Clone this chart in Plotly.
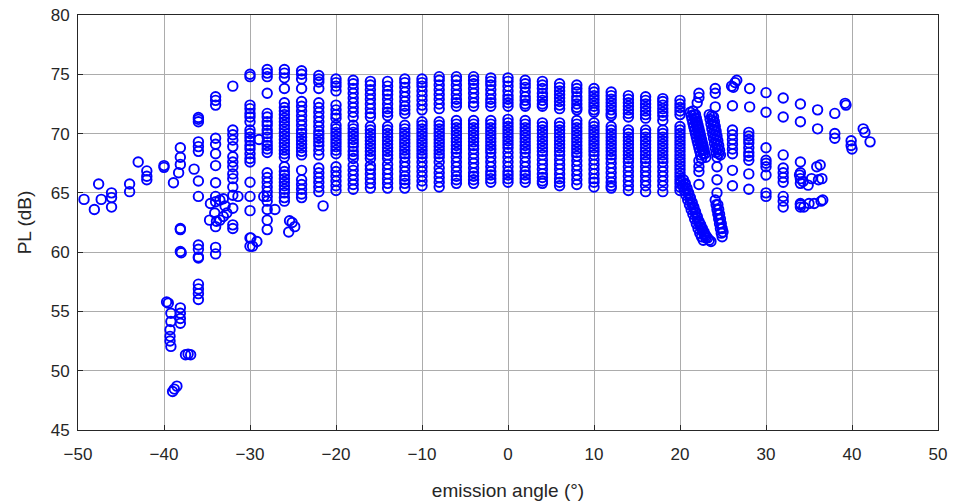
import plotly.graph_objects as go

# Path loss (dB) measured per emission angle (deg); regular sweep columns
col_angles = [-32, -30, -28, -26, -24, -22, -20, -18, -16, -14, -12, -10, -8, -6,
              -4, -2, 0, 2, 4, 6, 8, 10, 12, 14, 16, 18, 20]
col_pl = [
    [74.0, 70.3, 69.9, 69.45, 68.9, 68.05, 67.6, 67.2, 66.6, 66.2, 65.5, 64.8, 63.7, 62.3, 62.0],
    [75.0, 74.8, 72.4, 72.1, 71.7, 71.4, 71.0, 70.3, 70.0, 69.7, 69.4, 69.0, 68.7, 68.3, 67.9,
     67.6, 65.9, 64.7, 63.5, 61.2, 60.5],
    [75.4, 75.1, 74.8, 73.4, 71.7, 71.4, 71.0, 70.7, 70.3, 70.0, 69.7, 69.3, 69.0, 68.7, 68.4,
     66.7, 66.3, 65.9, 65.5, 65.1, 64.7, 64.3, 63.6, 62.7, 61.9],
    [75.4, 75.1, 74.7, 73.8, 72.6, 72.2, 71.9, 71.6, 71.3, 71.0, 70.7, 70.4, 70.1, 69.8, 69.5,
     69.2, 68.9, 68.6, 68.3, 68.0, 67.2, 66.8, 66.5, 66.2, 65.9, 65.6, 65.3, 65.0, 64.6, 64.3],
    [75.3, 75.0, 74.6, 73.8, 72.7, 72.3, 71.9, 71.5, 71.1, 70.7, 70.3, 70.0, 69.7, 69.4, 69.1,
     68.8, 68.5, 68.2, 66.9, 66.1, 65.7, 65.3, 64.9, 64.6],
    [74.9, 74.6, 74.35, 73.8, 72.6, 72.2, 71.8, 71.4, 71.0, 70.6, 70.2, 69.9, 69.6, 69.3, 69.0,
     68.6, 68.2, 67.1, 66.7, 66.3, 65.9, 65.5, 65.1],
    [74.6, 74.3, 74.0, 73.6, 72.4, 72.0, 71.6, 71.3, 70.7, 70.4, 70.1, 69.8, 69.5, 69.2, 68.9,
     68.6, 68.3, 67.2, 66.8, 66.4, 66.0, 65.6, 65.2],
    [74.5, 74.2, 73.8, 73.4, 73.0, 72.6, 72.2, 71.8, 71.4, 70.7, 70.4, 70.1, 69.8, 69.5, 69.2,
     68.9, 68.5, 68.2, 67.9, 67.3, 66.9, 66.5, 66.1, 65.7, 65.3],
    [74.4, 74.1, 73.7, 73.3, 72.9, 72.5, 72.1, 71.7, 71.4, 70.6, 70.3, 70.0, 69.7, 69.4, 69.1,
     68.8, 68.5, 68.2, 67.9, 67.3, 67.0, 66.6, 66.2, 65.8, 65.4],
    [74.4, 74.0, 73.6, 73.3, 72.9, 72.5, 72.1, 71.8, 71.5, 70.6, 70.3, 70.0, 69.7, 69.4, 69.1,
     68.8, 68.5, 68.2, 67.9, 67.4, 67.0, 66.6, 66.2, 65.8, 65.4],
    [74.6, 74.3, 73.9, 73.5, 73.1, 72.7, 72.3, 72.0, 71.7, 70.7, 70.4, 70.1, 69.8, 69.5, 69.2,
     68.9, 68.6, 68.3, 68.0, 67.6, 67.2, 66.8, 66.4, 66.1, 65.8, 65.4],
    [74.6, 74.3, 74.0, 73.6, 73.2, 72.8, 72.4, 72.0, 71.0, 70.7, 70.4, 70.1, 69.8, 69.5, 69.2,
     68.9, 68.6, 68.3, 68.0, 67.6, 67.2, 66.8, 66.4, 66.0, 65.6],
    [74.8, 74.5, 74.1, 73.7, 73.3, 72.9, 72.5, 72.1, 71.0, 70.7, 70.4, 70.1, 69.8, 69.5, 69.2,
     68.9, 68.6, 68.3, 68.0, 67.6, 67.1, 66.7, 66.3, 65.9, 65.5],
    [74.8, 74.5, 74.1, 73.7, 73.3, 72.9, 72.6, 72.3, 71.1, 70.8, 70.5, 70.2, 69.9, 69.6, 69.3,
     69.0, 68.7, 68.4, 68.0, 67.6, 67.2, 66.8, 66.4, 66.1, 65.8],
    [74.8, 74.5, 74.2, 73.8, 73.4, 73.0, 72.6, 72.3, 71.1, 70.8, 70.5, 70.2, 69.9, 69.6, 69.3,
     69.0, 68.7, 68.3, 67.9, 67.5, 67.1, 66.7, 66.4, 66.1, 65.8],
    [74.7, 74.4, 74.1, 73.7, 73.3, 72.9, 72.6, 72.3, 71.1, 70.8, 70.5, 70.2, 69.9, 69.6, 69.3,
     69.0, 68.7, 68.4, 68.0, 67.6, 67.2, 66.8, 66.5, 66.2, 65.9],
    [74.7, 74.4, 74.0, 73.6, 73.2, 72.9, 72.6, 72.3, 71.2, 70.9, 70.6, 70.3, 70.0, 69.7, 69.4,
     69.1, 68.8, 68.4, 68.0, 67.6, 67.2, 66.8, 66.5, 66.2, 65.9],
    [74.5, 74.2, 73.9, 73.5, 73.1, 72.8, 72.5, 72.3, 71.1, 70.8, 70.5, 70.2, 69.9, 69.6, 69.3,
     69.0, 68.7, 68.4, 68.0, 67.6, 67.2, 66.8, 66.5, 66.2, 65.9],
    [74.4, 74.1, 73.8, 73.4, 73.1, 72.8, 72.5, 72.3, 70.9, 70.6, 70.3, 70.0, 69.7, 69.4, 69.1,
     68.8, 68.5, 68.2, 67.8, 67.4, 67.0, 66.6, 66.3, 66.0, 65.8],
    [74.2, 73.9, 73.6, 73.3, 73.0, 72.7, 72.4, 72.1, 70.9, 70.6, 70.3, 70.0, 69.7, 69.4, 69.1,
     68.8, 68.5, 68.2, 67.8, 67.4, 67.0, 66.6, 66.2, 65.9, 65.6],
    [74.1, 73.8, 73.5, 73.1, 72.8, 72.5, 72.2, 72.0, 71.1, 70.8, 70.5, 70.2, 69.9, 69.6, 69.3,
     69.0, 68.7, 68.4, 68.1, 67.7, 67.3, 66.9, 66.5, 66.1, 65.7],
    [73.8, 73.5, 73.2, 72.9, 72.6, 72.3, 72.0, 71.8, 70.9, 70.6, 70.3, 70.0, 69.7, 69.4, 69.1,
     68.8, 68.5, 68.2, 67.8, 67.4, 67.0, 66.6, 66.2, 65.9, 65.5],
    [73.5, 73.2, 72.9, 72.6, 72.3, 72.0, 71.7, 71.5, 70.6, 70.3, 70.0, 69.7, 69.4, 69.1, 68.8,
     68.5, 68.2, 67.9, 67.5, 67.1, 66.7, 66.3, 65.9, 65.6, 65.4],
    [73.2, 72.9, 72.6, 72.3, 72.0, 71.7, 71.4, 70.3, 70.0, 69.7, 69.4, 69.1, 68.8, 68.5, 68.2,
     67.9, 67.6, 67.2, 66.8, 66.4, 66.0, 65.6, 65.2],
    [73.1, 72.8, 72.5, 72.2, 71.9, 71.6, 71.3, 70.3, 70.0, 69.7, 69.4, 69.1, 68.8, 68.5, 68.2,
     67.9, 67.6, 67.2, 66.8, 66.4, 66.0, 65.6, 65.1],
    [72.95, 72.7, 72.4, 72.1, 71.8, 71.5, 71.1, 70.3, 70.0, 69.7, 69.4, 69.1, 68.8, 68.5, 68.2,
     67.9, 67.6, 67.2, 66.8, 66.4, 66.0, 65.6, 65.1],
    [72.8, 72.5, 72.2, 71.9, 71.6, 70.6, 70.3, 70.0, 69.7, 69.4, 69.1, 68.8, 68.5, 68.2, 67.9,
     67.6, 67.3, 67.0, 66.7, 66.4, 66.1, 65.8, 65.5, 65.2],
]

# Far-left and low-angle measurements
left_angle = [-49.3, -48.1, -47.6, -47.3, -46.1, -46.1, -46.1, -44.0, -44.0, -43.0,
              -42.0, -42.0, -42.0, -40.0, -40.0, -38.9, -38.1, -38.1, -38.1, -38.3,
              -36.5, -36.0, -36.0, -36.0, -36.0, -36.0, -36.0, -36.0, -36.0,
              -34.0, -34.0, -34.0, -34.0, -34.0, -34.0, -34.0, -34.0, -34.0, -34.0,
              -34.6, -34.7, -34.1, -33.9, -33.5, -33.1, -32.9, -32.7, -33.5, -33.1, -31.4,
              -34.0, -34.0, -34.0, -36.0, -36.0, -36.0, -36.0,
              -38.1, -38.1, -38.1, -38.0,
              -36.0, -36.0, -36.0, -36.0,
              -39.7, -39.5, -39.2, -39.2, -39.3, -39.3, -39.3, -39.2,
              -38.1, -38.1, -38.1, -38.1,
              -37.5, -37.2, -36.9, -39.0, -38.8, -38.5,
              -29.9, -29.7, -29.2, -28.95, -28.4, -27.1,
              -25.4, -25.1, -25.5, -24.8, -21.5]
left_pl = [64.45, 63.6, 65.75, 64.45, 65.0, 64.6, 63.8, 65.75, 65.1, 67.6,
           66.85, 66.4, 66.1, 67.3, 67.15, 65.85, 68.8, 68.0, 67.4, 66.7,
           67.0, 71.35, 71.2, 69.3, 68.9, 68.5, 66.0, 64.7, 71.0,
           73.1, 72.8, 72.4, 69.6, 69.1, 68.3, 67.3, 65.85, 64.7, 64.25,
           64.1, 62.7, 63.3, 62.6, 62.7, 64.5, 63.9, 63.3, 64.4, 63.0, 64.7,
           62.15, 60.4, 59.85, 60.6, 60.25, 59.6, 59.5,
           62.0, 61.9, 60.05, 59.95,
           57.3, 56.9, 56.5, 56.0,
           55.8, 55.7, 54.85, 54.15, 53.45, 52.9, 52.5, 52.05,
           55.3, 54.85, 54.4, 54.0,
           51.35, 51.4, 51.35, 48.25, 48.45, 48.7,
           61.2, 60.5, 60.9, 69.5, 64.7, 63.6,
           62.65, 62.5, 61.7, 62.15, 63.9]

# Sloped clusters between 20 and 25 deg
cluster_angle = [21.2, 21.3, 21.4, 21.5, 21.6, 21.7, 21.8, 21.9, 22.0, 22.1, 22.2, 22.3, 22.4, 22.5,
                 21.5, 21.6, 21.7, 21.8, 21.9, 22.0, 22.1, 22.2, 22.3, 22.4, 22.5, 22.6, 22.7,
                 21.8, 21.9, 22.0, 22.1, 22.2, 22.3, 22.4, 22.5, 22.6, 22.7, 22.8, 22.9, 23.0,
                 23.4, 23.5, 23.6, 23.7, 23.8, 23.9, 24.0, 24.1, 24.2, 24.3,
                 23.7, 23.8, 23.9, 24.0, 24.1, 24.2, 24.3, 24.4, 24.5,
                 23.9, 24.0, 24.1, 24.2, 24.3, 24.4, 24.5, 24.6, 24.7,
                 20.1, 20.3, 20.5, 20.7, 20.9, 21.1, 21.3, 21.5, 21.7, 21.9, 22.1, 22.3, 22.5, 22.7,
                 20.4, 20.6, 20.8, 21.0, 21.2, 21.4, 21.6, 21.8, 22.0, 22.2, 22.4, 22.6, 22.8, 23.0,
                 20.6, 20.8, 21.0, 21.2, 21.4, 21.6, 21.8, 22.0, 22.2, 22.4, 22.6, 22.8, 23.0, 23.2,
                 23.4, 23.6,
                 24.1, 24.2, 24.3, 24.4, 24.5, 24.6, 24.7, 24.8, 24.9,
                 24.4, 24.5, 24.6, 24.7, 24.8, 24.9, 25.0]
cluster_pl = [71.8, 71.5, 71.2, 70.9, 70.6, 70.3, 70.0, 69.7, 69.4, 69.1, 68.8, 68.5, 68.2, 67.9,
              71.9, 71.6, 71.3, 71.0, 70.7, 70.4, 70.1, 69.8, 69.5, 69.2, 68.9, 68.6, 68.3,
              71.6, 71.3, 71.0, 70.7, 70.4, 70.1, 69.8, 69.5, 69.2, 68.9, 68.6, 68.3, 68.0,
              71.6, 71.2, 70.8, 70.4, 70.0, 69.6, 69.2, 68.8, 68.4, 68.0,
              71.5, 71.1, 70.7, 70.3, 69.9, 69.5, 69.1, 68.7, 68.3,
              71.4, 71.0, 70.6, 70.2, 69.8, 69.4, 69.0, 68.6, 68.2,
              66.0, 65.6, 65.2, 64.8, 64.4, 64.0, 63.6, 63.2, 62.8, 62.4, 62.0, 61.6, 61.3, 61.0,
              66.1, 65.7, 65.3, 64.9, 64.5, 64.1, 63.7, 63.3, 62.9, 62.5, 62.1, 61.8, 61.5, 61.2,
              65.8, 65.4, 65.0, 64.6, 64.2, 63.8, 63.4, 63.0, 62.6, 62.3, 62.0, 61.7, 61.4, 61.2,
              61.0, 60.9,
              64.4, 64.0, 63.6, 63.2, 62.8, 62.4, 62.0, 61.6, 61.3,
              64.0, 63.6, 63.2, 62.8, 62.4, 62.0, 61.7]

# Sparse measurements above 20 deg
right_angle = [22.2, 22.2, 22.0, 22.2, 22.2, 22.2, 22.2,
               24.1, 24.1, 24.1, 24.3, 24.3, 24.3,
               26.0, 26.4, 26.6, 26.2, 26.1, 26.1, 26.1, 26.1, 26.1, 26.1, 26.1, 26.1, 26.1,
               28.1, 28.1, 28.0, 28.0, 28.0, 28.0, 28.0, 28.0, 28.0, 28.0, 28.0, 28.0,
               30.0, 30.0, 30.0, 30.0, 30.0, 30.0, 30.0, 30.0, 30.0,
               32.0, 32.0, 32.0, 32.0, 32.0, 32.0, 32.0, 32.0, 32.0, 32.0,
               34.0, 34.0, 34.0, 34.0, 34.0, 34.0, 34.0, 34.0,
               33.9, 34.3, 34.9, 35.3, 35.9, 36.3, 36.1, 36.5,
               34.0, 34.4, 35.0, 35.6, 36.4, 36.6,
               36.0, 36.0, 38.0, 38.0, 38.0, 39.2, 39.3, 39.9, 39.9, 40.0,
               41.3, 41.5, 42.1]
right_pl = [73.4, 73.05, 72.6, 67.7, 67.2, 66.8, 65.7,
            73.8, 73.4, 72.25, 67.2, 66.1, 65.0,
            74.0, 74.3, 74.5, 73.9, 72.35, 70.3, 69.9, 69.5, 69.1, 68.7, 68.3, 66.9, 65.6,
            73.8, 72.25, 70.1, 69.8, 69.5, 69.2, 68.8, 68.4, 68.1, 67.75, 66.6, 65.3,
            73.45, 71.8, 68.8, 67.75, 67.5, 67.2, 66.5, 65.0, 64.7,
            73.0, 71.4, 68.2, 67.1, 66.7, 66.3, 65.9, 64.7, 64.3, 63.8,
            72.5, 71.0, 67.6, 66.7, 66.2, 65.8, 64.1, 63.8,
            66.5, 65.95, 65.65, 66.2, 67.2, 67.35, 66.1, 66.2,
            64.0, 63.8, 64.1, 64.1, 64.3, 64.4,
            72.0, 70.4, 71.7, 70.0, 69.6, 72.55, 72.4, 69.4, 69.0, 68.7,
            70.4, 70.1, 69.3]

angles = []
pl = []
for ang, vals in zip(col_angles, col_pl):
    angles.extend([ang] * len(vals))
    pl.extend(vals)
angles += left_angle + cluster_angle + right_angle
pl += left_pl + cluster_pl + right_pl

ink = "#262626"
font_family = "Liberation Sans, Arial, Helvetica, sans-serif"

fig = go.Figure(
    go.Scatter(
        x=angles, y=pl, mode="markers",
        marker=dict(symbol="circle-open", size=9.5, color="#0000ff",
                    line=dict(width=1.9, color="#0000ff")),
        showlegend=False,
    )
)

axis_common = dict(
    showline=True, linecolor=ink, linewidth=1, mirror=True,
    ticks="inside", ticklen=5, tickcolor=ink,
    showgrid=True, gridcolor="#acacac", gridwidth=1, zeroline=False,
    tickfont=dict(family=font_family, size=17, color=ink),
    automargin=False,
)

fig.update_xaxes(range=[-50, 50], dtick=10, tick0=-50,
                 title=dict(text="emission angle (°)", font=dict(family=font_family, size=19, color=ink),
                            standoff=20),
                 ticklabelstandoff=9, **axis_common)
fig.update_yaxes(range=[45, 80], dtick=5, tick0=45,
                 title=dict(text="PL (dB)", font=dict(family=font_family, size=19, color=ink),
                            standoff=14),
                 ticklabelstandoff=4, **axis_common)

fig.update_layout(
    width=958, height=504,
    margin=dict(l=78, r=20, t=15, b=74),
    paper_bgcolor="white", plot_bgcolor="white",
)

fig.write_html("out.html")
